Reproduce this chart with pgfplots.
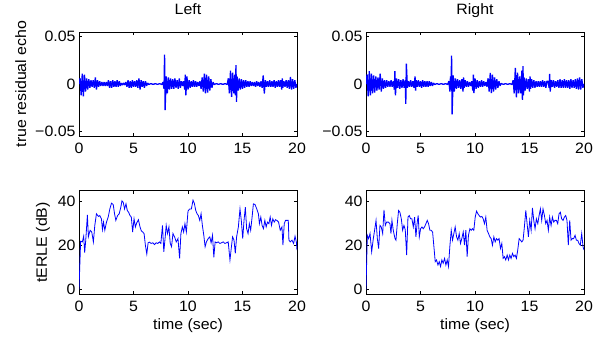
\documentclass[border=0pt]{standalone}
\usepackage{fontspec}
\setmainfont[FakeStretch=1.06]{Liberation Sans}
\usepackage{pgfplots}
\usepackage{pgfplotstable}
\pgfplotsset{compat=1.18}

\pgfplotstableread{
x y
0.0 0
0.1 0.006
0.2 -0.012
0.3 0.011
0.4 -0.013
0.5 0.010
0.6 -0.008
0.7 0.006
0.8 -0.006
0.9 0.005
1.0 -0.004
1.1 0.004
1.2 -0.003
1.3 0.004
1.4 -0.004
1.5 0.007
1.6 -0.006
1.7 0.004
1.8 -0.003
1.9 0.003
2.0 -0.002
2.1 0.002
2.2 -0.002
2.3 0.002
2.4 -0.002
2.5 0.002
2.6 -0.002
2.7 0.004
2.8 -0.004
2.9 0.003
3.0 -0.004
3.1 0.004
3.2 -0.003
3.3 0.003
3.4 -0.003
3.5 0.004
3.6 -0.003
3.7 0.003
3.8 -0.002
3.9 0.001
4.0 -0.001
4.1 0.001
4.2 -0.001
4.3 0.002
4.4 -0.003
4.5 0.004
4.6 -0.004
4.7 0.003
4.8 -0.004
4.9 0.004
5.0 -0.003
5.1 0.003
5.2 -0.003
5.3 0.004
5.4 -0.004
5.5 0.006
5.6 -0.006
5.7 0.004
5.8 -0.003
5.9 0.003
6.0 -0.004
6.1 0.003
6.2 -0.002
6.3 0.001
6.4 -0.0005
6.6 0.0004
6.8 -0.0004
7.0 0.0004
7.2 -0.0004
7.4 0.0004
7.6 -0.0005
7.7 0.002
7.8 -0.005
7.85 0.031
7.9 -0.0276
8.0 0.008
8.1 -0.010
8.2 0.007
8.3 -0.006
8.4 0.006
8.5 -0.005
8.6 0.005
8.7 -0.005
8.8 0.006
8.9 -0.004
9.0 0.004
9.1 -0.005
9.2 0.006
9.3 -0.004
9.4 0.003
9.5 -0.002
9.6 0.003
9.7 -0.006
9.75 0.010
9.8 -0.012
9.9 0.008
10.0 -0.006
10.1 0.004
10.2 -0.004
10.3 0.003
10.4 -0.003
10.5 0.004
10.6 -0.003
10.7 0.003
10.8 -0.003
10.9 0.002
11.0 -0.002
11.1 0.003
11.2 -0.005
11.3 0.007
11.4 -0.008
11.5 0.011
11.6 -0.010
11.7 0.010
11.8 -0.009
11.9 0.008
12.0 -0.007
12.1 0.005
12.2 -0.004
12.3 0.002
12.4 -0.0005
12.6 0.0004
12.8 -0.0004
13.0 0.0004
13.2 -0.0004
13.4 0.0004
13.6 -0.0005
13.7 0.006
13.8 -0.010
13.9 0.014
14.0 -0.0136
14.1 0.012
14.2 -0.010
14.3 0.010
14.35 -0.012
14.4 0.020
14.45 -0.019
14.5 0.008
14.6 -0.007
14.7 0.006
14.8 -0.006
14.9 0.005
15.0 -0.005
15.1 0.004
15.2 -0.004
15.3 0.004
15.4 -0.003
15.5 0.003
15.6 -0.003
15.7 0.003
15.8 -0.002
15.9 0.002
16.0 -0.002
16.1 0.002
16.2 -0.003
16.3 0.003
16.4 -0.002
16.5 0.002
16.6 -0.003
16.7 0.003
16.8 -0.004
16.9 0.009
17.0 -0.010
17.1 0.004
17.2 -0.003
17.3 0.003
17.4 -0.003
17.5 0.004
17.6 -0.003
17.7 0.003
17.8 -0.003
17.9 0.004
18.0 -0.004
18.1 0.003
18.2 -0.003
18.3 0.004
18.4 -0.003
18.5 0.004
18.6 -0.006
18.65 0.006
18.7 -0.004
18.8 0.003
18.9 -0.003
19.0 0.004
19.1 -0.004
19.2 0.004
19.3 -0.005
19.4 0.0074
19.5 -0.006
19.6 0.005
19.7 -0.005
19.8 0.004
19.9 -0.004
20.0 0
}\echoleft

\pgfplotstableread{
x y
0.0 0
0.1 0.010
0.2 -0.013
0.3 0.0135
0.4 -0.012
0.5 0.011
0.6 -0.010
0.7 0.009
0.8 -0.009
0.9 0.008
1.0 -0.007
1.1 0.007
1.2 -0.006
1.3 0.011
1.4 -0.008
1.5 0.006
1.6 -0.005
1.7 0.004
1.8 -0.004
1.9 0.004
2.0 -0.003
2.1 0.003
2.2 -0.003
2.3 0.004
2.4 -0.003
2.5 0.003
2.6 -0.006
2.65 0.0135
2.7 -0.012
2.8 0.006
2.9 -0.004
3.0 0.005
3.1 -0.005
3.2 0.004
3.3 -0.004
3.4 0.005
3.5 -0.004
3.6 0.004
3.65 -0.021
3.7 0.0216
3.8 -0.004
3.9 0.003
4.0 -0.003
4.1 0.004
4.2 -0.003
4.3 0.003
4.4 -0.004
4.5 0.008
4.55 -0.007
4.6 0.004
4.7 -0.003
4.8 0.004
4.9 -0.003
5.0 0.003
5.1 -0.004
5.2 0.004
5.3 -0.003
5.4 0.003
5.5 -0.003
5.6 0.003
5.7 -0.003
5.8 0.003
5.9 -0.002
6.0 0.002
6.1 -0.002
6.2 0.001
6.3 -0.0005
6.5 0.0004
6.7 -0.0004
6.9 0.0004
7.1 -0.0004
7.3 0.0004
7.5 -0.0005
7.6 0.003
7.7 -0.008
7.75 0.008
7.8 -0.006
7.85 0.030
7.9 -0.032
8.0 0.009
8.1 -0.008
8.2 0.006
8.3 -0.005
8.4 0.005
8.5 -0.004
8.6 0.004
8.7 -0.005
8.8 0.005
8.9 -0.008
8.95 0.007
9.0 -0.004
9.1 0.004
9.2 -0.003
9.3 0.003
9.4 -0.003
9.5 0.002
9.6 -0.002
9.7 0.003
9.8 -0.007
9.85 0.010
9.9 -0.0096
10.0 0.006
10.1 -0.005
10.2 0.004
10.3 -0.004
10.4 0.003
10.5 -0.003
10.6 0.004
10.7 -0.003
10.8 0.003
10.9 -0.002
11.0 0.002
11.1 -0.003
11.2 0.006
11.3 -0.008
11.4 0.0117
11.5 -0.0096
11.6 0.010
11.7 -0.008
11.8 0.007
11.9 -0.006
12.0 0.005
12.1 -0.004
12.2 0.003
12.3 -0.002
12.4 0.0005
12.6 -0.0004
12.8 0.0004
13.0 -0.0004
13.2 0.0004
13.4 -0.0005
13.5 0.004
13.6 -0.010
13.7 0.017
13.8 -0.014
13.9 0.012
14.0 -0.010
14.1 0.008
14.2 -0.010
14.3 0.014
14.35 -0.0167
14.4 0.0188
14.45 -0.012
14.5 0.007
14.6 -0.007
14.7 0.006
14.8 -0.005
14.9 0.005
15.0 -0.008
15.05 0.008
15.1 -0.005
15.2 0.005
15.3 -0.004
15.4 0.004
15.5 -0.004
15.6 0.003
15.7 -0.003
15.8 0.003
15.9 -0.003
16.0 0.003
16.1 -0.003
16.2 0.004
16.3 -0.003
16.4 0.003
16.5 -0.004
16.6 0.003
16.7 0.003
16.8 -0.004
16.85 0.0106
16.9 -0.008
17.0 0.004
17.1 -0.003
17.2 0.004
17.3 -0.004
17.4 0.003
17.5 -0.003
17.6 0.004
17.7 -0.004
17.8 0.005
17.9 -0.004
18.0 0.004
18.1 -0.004
18.2 0.005
18.3 -0.004
18.4 0.004
18.5 -0.004
18.6 0.004
18.7 -0.005
18.8 0.005
18.9 -0.004
19.0 0.004
19.1 -0.004
19.2 0.005
19.3 -0.005
19.4 0.006
19.5 -0.006
19.6 0.007
19.7 -0.006
19.8 0.005
19.9 -0.004
20.0 0
}\echoright

\pgfplotstableread{
x y
0.00 0
0.15 22.0
0.31 21.7
0.43 24.3
0.52 16.8
0.62 22.5
0.77 34.0
0.86 24.0
1.02 27.0
1.17 26.2
1.32 21.7
1.45 29.2
1.60 34.5
1.78 33.3
1.91 33.7
2.06 32.2
2.15 27.3
2.25 30.7
2.37 27.0
2.52 30.7
2.68 33.0
2.83 36.7
2.98 39.3
3.14 38.7
3.26 34.5
3.38 31.5
3.54 33.7
3.69 34.5
3.85 37.8
3.94 40.4
4.06 39.7
4.18 36.7
4.31 39.0
4.43 36.0
4.55 35.2
4.68 33.7
4.80 33.0
4.92 26.2
5.05 32.2
5.17 28.5
5.29 30.3
5.45 31.8
5.60 28.5
5.72 26.7
5.85 26.2
5.97 25.5
6.09 20.2
6.22 16.2
6.34 21.3
6.46 21.6
6.62 21.0
6.77 21.3
6.92 20.5
7.08 21.3
7.23 21.0
7.38 21.7
7.51 21.0
7.66 29.2
7.78 17.2
7.91 24.0
8.00 29.2
8.12 25.5
8.25 28.5
8.37 21.0
8.49 19.5
8.62 25.5
8.77 24.0
8.92 21.7
9.08 23.2
9.23 14.2
9.35 25.5
9.48 28.5
9.60 26.2
9.72 30.0
9.85 26.2
10.00 35.7
10.15 36.7
10.31 36.7
10.46 40.7
10.58 39.3
10.71 36.0
10.83 34.5
10.95 33.7
11.08 31.5
11.20 34.5
11.32 29.2
11.45 24.7
11.57 19.5
11.69 21.7
11.85 23.2
12.00 24.0
12.12 21.3
12.25 24.7
12.37 14.7
12.49 21.7
12.62 21.3
12.77 21.7
12.92 21.0
13.08 21.3
13.23 21.7
13.38 21.0
13.54 21.3
13.69 21.7
13.85 13.5
14.00 20.2
14.09 24.0
14.22 22.5
14.34 16.5
14.46 24.0
14.62 28.5
14.77 36.7
14.89 31.5
15.02 23.2
15.14 31.5
15.26 37.5
15.38 27.7
15.51 25.5
15.63 30.0
15.75 27.0
15.88 33.0
16.00 39.0
16.15 38.7
16.31 36.7
16.46 34.5
16.55 30.0
16.68 33.0
16.80 29.2
16.92 27.7
17.05 31.5
17.17 28.5
17.29 30.7
17.42 30.0
17.54 33.0
17.66 29.2
17.78 32.2
17.91 30.7
18.03 31.8
18.15 31.5
18.31 30.7
18.46 27.0
18.62 28.5
18.71 20.2
18.83 30.0
18.95 31.5
19.08 31.5
19.20 31.5
19.26 22.5
19.38 21.7
19.54 22.5
19.69 21.0
19.82 24.3
19.94 21.7
20.00 18.0
}\erleleft

\pgfplotstableread{
x y
0.00 0
0.12 24.7
0.24 23.2
0.37 25.5
0.52 17.2
0.67 23.2
0.79 27.0
0.92 31.5
1.04 23.2
1.16 18.7
1.28 29.2
1.40 28.5
1.53 25.5
1.65 36.3
1.77 29.2
1.89 30.7
2.05 30.7
2.20 30.0
2.29 25.5
2.38 31.5
2.50 27.0
2.66 23.2
2.75 22.5
2.87 30.0
2.99 36.0
3.11 35.2
3.24 32.2
3.36 27.0
3.48 29.2
3.60 27.3
3.73 15.7
3.85 33.0
3.97 33.7
4.09 32.2
4.21 32.2
4.34 28.5
4.46 33.0
4.58 24.0
4.70 30.7
4.79 33.7
4.89 24.0
5.01 27.7
5.13 28.5
5.25 27.7
5.37 28.5
5.50 30.0
5.62 31.5
5.74 30.0
5.86 27.0
5.98 27.0
6.11 26.2
6.23 19.5
6.35 12.7
6.47 13.5
6.60 11.2
6.72 12.7
6.84 10.5
6.96 13.5
7.08 12.0
7.21 14.2
7.33 11.2
7.45 13.5
7.57 10.5
7.69 19.5
7.82 27.0
7.94 22.5
8.06 25.5
8.18 28.5
8.31 24.0
8.43 22.5
8.55 25.5
8.67 21.0
8.79 23.2
8.92 26.2
9.04 20.2
9.16 27.0
9.28 15.0
9.40 24.7
9.53 27.7
9.65 27.0
9.77 27.7
9.89 27.0
10.02 33.0
10.14 35.7
10.26 34.5
10.38 33.7
10.50 33.0
10.63 33.3
10.75 32.2
10.87 30.0
10.99 33.0
11.11 27.0
11.24 25.5
11.36 24.0
11.48 23.2
11.60 20.2
11.73 24.0
11.85 21.7
11.97 23.2
12.09 22.5
12.21 23.2
12.34 18.7
12.46 21.0
12.58 14.2
12.70 15.0
12.82 13.5
12.95 15.7
13.07 13.5
13.19 15.7
13.31 14.2
13.44 16.5
13.56 15.0
13.68 15.7
13.80 14.2
13.92 18.0
14.05 23.2
14.17 22.5
14.29 21.7
14.41 22.5
14.53 28.5
14.66 36.0
14.78 30.0
14.90 24.0
15.02 31.5
15.15 27.0
15.27 37.2
15.39 31.5
15.51 27.7
15.63 32.2
15.76 30.0
15.88 33.7
16.00 36.7
16.12 31.5
16.24 36.7
16.37 33.7
16.49 30.0
16.61 31.5
16.73 27.0
16.85 33.0
16.98 29.2
17.10 33.0
17.22 30.7
17.34 31.5
17.47 31.5
17.59 30.0
17.71 34.5
17.83 35.2
17.95 32.2
18.08 31.5
18.20 33.0
18.32 33.7
18.44 31.5
18.56 20.2
18.69 31.5
18.81 22.5
18.93 23.2
19.05 23.2
19.18 24.7
19.30 22.5
19.42 22.5
19.54 21.0
19.66 20.2
19.79 25.5
19.91 19.5
20.00 18.0
}\erleright

\begin{document}
\begin{tikzpicture}[font=\fontsize{15bp}{17bp}\selectfont]
\useasboundingbox (0,0) rectangle (600bp,339bp);
\pgfplotsset{
  every axis/.append style={
    scale only axis, width=218bp, anchor=south west,
    xmin=0, xmax=20, xtick={0,5,10,15,20},
    tick align=inside, major tick length=3bp,
    axis line style={line width=0.9bp, black},
    every tick/.style={black, line width=0.7bp},
    /pgf/number format/assume math mode=true,
    scaled y ticks=false, scaled x ticks=false,
    xticklabel style={yshift=-4bp},
    title style={at={(axis description cs:0.5,1.115)}, anchor=base},
  },
  echo/.style={height=104bp, ymin=-0.055, ymax=0.055,
    ytick={-0.05,0,0.05}, yticklabels={−0.05,0,0.05}},
  erle/.style={height=103.3bp, ymin=-2, ymax=45, ytick={0,20,40},
    xlabel={time (sec)},
    xlabel style={at={(axis description cs:0.5,-0.348)}, anchor=base}},
}
\begin{axis}[echo, at={(79bp,203bp)}, title={Left}, ylabel={true residual echo},
  ylabel style={at={(axis description cs:-0.243,0.5)}, anchor=base}]
\addplot[blue, line width=1.3bp, line join=bevel] table[x=x,y=y] {\echoleft};
\end{axis}
\begin{axis}[echo, at={(366bp,203bp)}, title={Right}]
\addplot[blue, line width=1.3bp, line join=bevel] table[x=x,y=y] {\echoright};
\end{axis}
\begin{axis}[erle, at={(79bp,45bp)}, ylabel={tERLE (dB)},
  ylabel style={at={(axis description cs:-0.147,0.5)}, anchor=base}]
\addplot[blue, line width=0.8bp] table[x=x,y=y] {\erleleft};
\end{axis}
\begin{axis}[erle, at={(366bp,45bp)}]
\addplot[blue, line width=0.8bp] table[x=x,y=y] {\erleright};
\end{axis}
\end{tikzpicture}
\end{document}
